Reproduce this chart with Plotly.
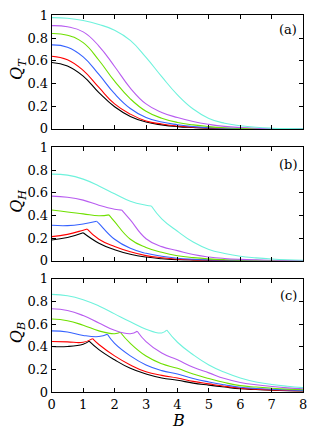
import plotly.graph_objects as go

# ---------------- data ----------------
B = [0, 0.5, 1, 1.5, 2, 2.5, 3, 3.5, 4, 4.5, 5, 5.5, 6, 6.5, 7, 7.5, 8]
x_ticks = [0, 1, 2, 3, 4, 5, 6, 7, 8]
y_ticks = [0, 0.2, 0.4, 0.6, 0.8, 1]
y_tick_labels = ["0", "0.2", "0.4", "0.6", "0.8", "1"]
series_names = ["black", "red", "blue", "green", "purple", "cyan"]
series_colors = ["#000000", "#ff0000", "#3562ff", "#6fe000", "#b85cf0", "#6ef2dc"]

# panel (a): Q_T
QT_black = [0.585, 0.555, 0.465, 0.32, 0.195, 0.11, 0.06, 0.035, 0.02, 0.012, 0.006, 0.003, 0.001, 0.0, 0.0, 0.0, 0.0]
QT_red = [0.64, 0.61, 0.515, 0.365, 0.22, 0.13, 0.07, 0.043, 0.026, 0.015, 0.008, 0.004, 0.002, 0.001, 0.0, 0.0, 0.0]
QT_blue = [0.74, 0.72, 0.635, 0.48, 0.31, 0.18, 0.10, 0.06, 0.037, 0.02, 0.01, 0.005, 0.003, 0.001, 0.0, 0.0, 0.0]
QT_green = [0.84, 0.825, 0.76, 0.605, 0.42, 0.265, 0.155, 0.094, 0.057, 0.035, 0.02, 0.01, 0.005, 0.002, 0.001, 0.0, 0.0]
QT_purple = [0.91, 0.90, 0.855, 0.73, 0.55, 0.36, 0.22, 0.145, 0.10, 0.065, 0.04, 0.022, 0.012, 0.006, 0.003, 0.001, 0.0]
QT_cyan = [0.98, 0.975, 0.955, 0.92, 0.87, 0.78, 0.63, 0.46, 0.30, 0.175, 0.092, 0.05, 0.028, 0.014, 0.006, 0.002, 0.001]

# panel (b): Q_H  (kink = [B, Q] of the cusp)
QH_black = [0.184, 0.205, 0.247, 0.155, 0.098, 0.058, 0.033, 0.018, 0.010, 0.006, 0.004, 0.002, 0.001, 0.0005, 0.0, 0.0, 0.0]
QH_red = [0.213, 0.233, 0.27, 0.19, 0.126, 0.08, 0.046, 0.027, 0.014, 0.008, 0.005, 0.003, 0.002, 0.001, 0.0, 0.0, 0.0]
QH_blue = [0.313, 0.31, 0.325, 0.33, 0.19, 0.11, 0.066, 0.04, 0.023, 0.014, 0.008, 0.005, 0.003, 0.002, 0.001, 0.0, 0.0]
QH_green = [0.448, 0.43, 0.414, 0.397, 0.345, 0.19, 0.118, 0.075, 0.045, 0.028, 0.017, 0.01, 0.006, 0.004, 0.002, 0.001, 0.001]
QH_purple = [0.57, 0.56, 0.535, 0.49, 0.455, 0.36, 0.195, 0.125, 0.09, 0.055, 0.034, 0.021, 0.013, 0.008, 0.005, 0.003, 0.002]
QH_cyan = [0.764, 0.755, 0.72, 0.66, 0.59, 0.525, 0.49, 0.37, 0.26, 0.165, 0.10, 0.065, 0.04, 0.026, 0.016, 0.009, 0.005]
QH_black_kink = [1.0, 0.247]
QH_red_kink = [1.13, 0.28]
QH_blue_kink = [1.43, 0.348]
QH_green_kink = [1.82, 0.405]
QH_purple_kink = [2.23, 0.447]
QH_cyan_kink = [3.17, 0.483]

# panel (c): Q_B
QB_black = [0.403, 0.403, 0.423, 0.375, 0.285, 0.21, 0.16, 0.125, 0.105, 0.08, 0.062, 0.045, 0.03, 0.023, 0.017, 0.013, 0.01]
QB_red = [0.446, 0.443, 0.44, 0.42, 0.32, 0.24, 0.18, 0.148, 0.125, 0.095, 0.073, 0.052, 0.036, 0.027, 0.02, 0.015, 0.012]
QB_blue = [0.54, 0.53, 0.50, 0.49, 0.43, 0.32, 0.24, 0.19, 0.16, 0.12, 0.09, 0.065, 0.043, 0.033, 0.026, 0.02, 0.016]
QB_green = [0.645, 0.63, 0.59, 0.54, 0.515, 0.43, 0.318, 0.25, 0.21, 0.16, 0.12, 0.085, 0.058, 0.045, 0.035, 0.027, 0.021]
QB_purple = [0.735, 0.72, 0.675, 0.61, 0.545, 0.515, 0.446, 0.345, 0.285, 0.22, 0.17, 0.12, 0.085, 0.065, 0.05, 0.038, 0.03]
QB_cyan = [0.862, 0.85, 0.815, 0.76, 0.69, 0.62, 0.555, 0.522, 0.44, 0.33, 0.24, 0.175, 0.125, 0.09, 0.068, 0.052, 0.04]
QB_black_kink = [1.19, 0.45]
QB_red_kink = [1.30, 0.472]
QB_blue_kink = [1.77, 0.51]
QB_green_kink = [2.18, 0.528]
QB_purple_kink = [2.72, 0.537]
QB_cyan_kink = [3.66, 0.548]

panel_labels = ["(a)", "(b)", "(c)"]
y_titles = ["<i>Q</i><sub><i>T</i></sub>", "<i>Q</i><sub><i>H</i></sub>", "<i>Q</i><sub><i>B</i></sub>"]
x_title = "<i>B</i>"

panel_a = [QT_black, QT_red, QT_blue, QT_green, QT_purple, QT_cyan]
panel_b = [QH_black, QH_red, QH_blue, QH_green, QH_purple, QH_cyan]
panel_c = [QB_black, QB_red, QB_blue, QB_green, QB_purple, QB_cyan]
kinks_b = [QH_black_kink, QH_red_kink, QH_blue_kink, QH_green_kink, QH_purple_kink, QH_cyan_kink]
kinks_c = [QB_black_kink, QB_red_kink, QB_blue_kink, QB_green_kink, QB_purple_kink, QB_cyan_kink]

# ---------------- figure ----------------
W, H = 314, 439
FONT = "DejaVu Serif"
xdom = [49 / W, 307 / W]
ydoms = [[1 - 126.2 / H, 1 - 8.7 / H],
         [1 - 262.8 / H, 1 - 145.3 / H],
         [1 - 398.8 / H, 1 - 281.3 / H]]

fig = go.Figure()


def add_line(xs, ys, color, k):
    fig.add_trace(go.Scatter(x=xs, y=ys, mode="lines",
                             line=dict(color=color, width=1.1, shape="spline", smoothing=1.3),
                             xaxis="x" if k == 0 else f"x{k+1}",
                             yaxis="y" if k == 0 else f"y{k+1}",
                             showlegend=False, hoverinfo="skip"))


for i, ys in enumerate(panel_a):
    add_line(B, ys, series_colors[i], 0)

for k, (panel, kinks) in enumerate([(panel_b, kinks_b), (panel_c, kinks_c)], start=1):
    for i, ys in enumerate(panel):
        bk, qk = kinks[i]
        pre_x = [b for b in B if b < bk] + [bk]
        pre_y = [q for b, q in zip(B, ys) if b < bk] + [qk]
        post_x = [bk] + [b for b in B if b > bk]
        post_y = [qk] + [q for b, q in zip(B, ys) if b > bk]
        add_line(pre_x, pre_y, series_colors[i], k)
        add_line(post_x, post_y, series_colors[i], k)

axis_common = dict(showline=True, linecolor="black", linewidth=1, mirror="ticks",
                   ticks="inside", ticklen=4, tickwidth=1, tickcolor="black",
                   showgrid=False, zeroline=False, ticklabeloverflow="allow",
                   tickfont=dict(family=FONT, size=13, color="black"))

layout = dict(width=W, height=H, margin=dict(l=0, r=0, t=0, b=0),
              paper_bgcolor="white", plot_bgcolor="white",
              font=dict(family=FONT, color="black"))

for k in range(3):
    xn = "xaxis" if k == 0 else f"xaxis{k+1}"
    yn = "yaxis" if k == 0 else f"yaxis{k+1}"
    ya = "y" if k == 0 else f"y{k+1}"
    xa = "x" if k == 0 else f"x{k+1}"
    layout[xn] = dict(axis_common, domain=xdom, range=[0, 8.0005], tickvals=x_ticks,
                      showticklabels=(k == 2), anchor=ya)
    layout[yn] = dict(axis_common, domain=ydoms[k], range=[0, 1], tickvals=y_ticks,
                      ticktext=y_tick_labels, anchor=xa)

fig.update_layout(**layout)

label_y = [23.3, 163, 299]
for k in range(3):
    fig.add_annotation(x=303 / W, y=1 - label_y[k] / H, xref="paper", yref="paper",
                       text=panel_labels[k], showarrow=False, xanchor="right", yanchor="middle",
                       font=dict(family=FONT, size=13, color="black"))
    fig.add_annotation(x=14 / W, y=(ydoms[k][0] + ydoms[k][1]) / 2 + 3 / H, xref="paper", yref="paper",
                       text=y_titles[k], showarrow=False, textangle=-90,
                       xanchor="center", yanchor="middle",
                       font=dict(family=FONT, size=16, color="black"))

fig.add_annotation(x=179 / W, y=1 - 428.5 / H, xref="paper", yref="paper",
                   text=x_title, showarrow=False, xanchor="center", yanchor="middle",
                   font=dict(family=FONT, size=16, color="black"))

fig.write_html("out.html", config={"displayModeBar": False},
               post_script="document.body.style.margin='0';")
